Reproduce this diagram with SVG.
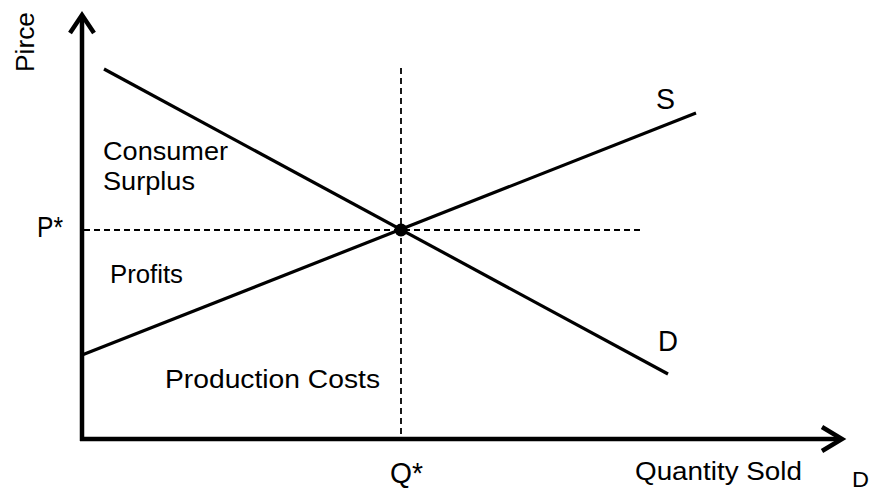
<svg xmlns="http://www.w3.org/2000/svg" width="873" height="492" viewBox="0 0 873 492">
<style>
.axis{stroke:#000;stroke-width:4.5;fill:none}
.head{stroke:#000;stroke-width:4.5;fill:none;stroke-linecap:butt;stroke-linejoin:miter}
.curve{stroke:#000;stroke-width:3.2;fill:none}
.dash{stroke:#000;stroke-width:1.8;stroke-dasharray:6 4;fill:none}
text{font-family:"Liberation Sans",Arial,sans-serif;fill:#000}
.lbl{font-size:25px}
.big{font-size:29px}
</style>
<rect width="873" height="492" fill="#fff"/>
<g id="connectors">
<line class="dash" x1="401" y1="68" x2="401" y2="437"/>
<line class="dash" x1="84" y1="230" x2="640" y2="230"/>
<line class="curve" x1="104" y1="69" x2="668" y2="374"/>
<line class="curve" x1="82" y1="355" x2="696" y2="113"/>
</g>
<g id="axes">
<line class="axis" x1="82" y1="17" x2="82" y2="441"/>
<line class="axis" x1="80" y1="439" x2="840" y2="439"/>
<polyline class="head" points="70,33 82,15 94,33"/>
<polyline class="head" points="822,427 842,439 822,451"/>
</g>
<g id="equilibrium">
<circle cx="401" cy="230" r="6.5" fill="#000"/>
</g>
<g id="labels">
<text style="font-size:26px" transform="translate(34,72) rotate(-90)" textLength="60" lengthAdjust="spacingAndGlyphs">Pirce</text>
<text class="big" x="37" y="237" textLength="26" lengthAdjust="spacingAndGlyphs">P*</text>
<text class="big" x="390" y="483" textLength="33" lengthAdjust="spacingAndGlyphs">Q*</text>
<text class="lbl" x="103" y="160" textLength="125" lengthAdjust="spacingAndGlyphs">Consumer</text>
<text class="lbl" x="103" y="190" textLength="92" lengthAdjust="spacingAndGlyphs">Surplus</text>
<text class="lbl" x="110" y="283" textLength="73" lengthAdjust="spacingAndGlyphs">Profits</text>
<text class="lbl" x="165" y="388" textLength="215" lengthAdjust="spacingAndGlyphs">Production Costs</text>
<text class="lbl" x="635" y="480" textLength="167" lengthAdjust="spacingAndGlyphs">Quantity Sold</text>
<text class="big" x="656" y="109" textLength="19" lengthAdjust="spacingAndGlyphs">S</text>
<text class="big" x="658" y="351" textLength="20" lengthAdjust="spacingAndGlyphs">D</text>
<text style="font-size:22px" x="852" y="487" textLength="17" lengthAdjust="spacingAndGlyphs">D</text>
</g>
</svg>
